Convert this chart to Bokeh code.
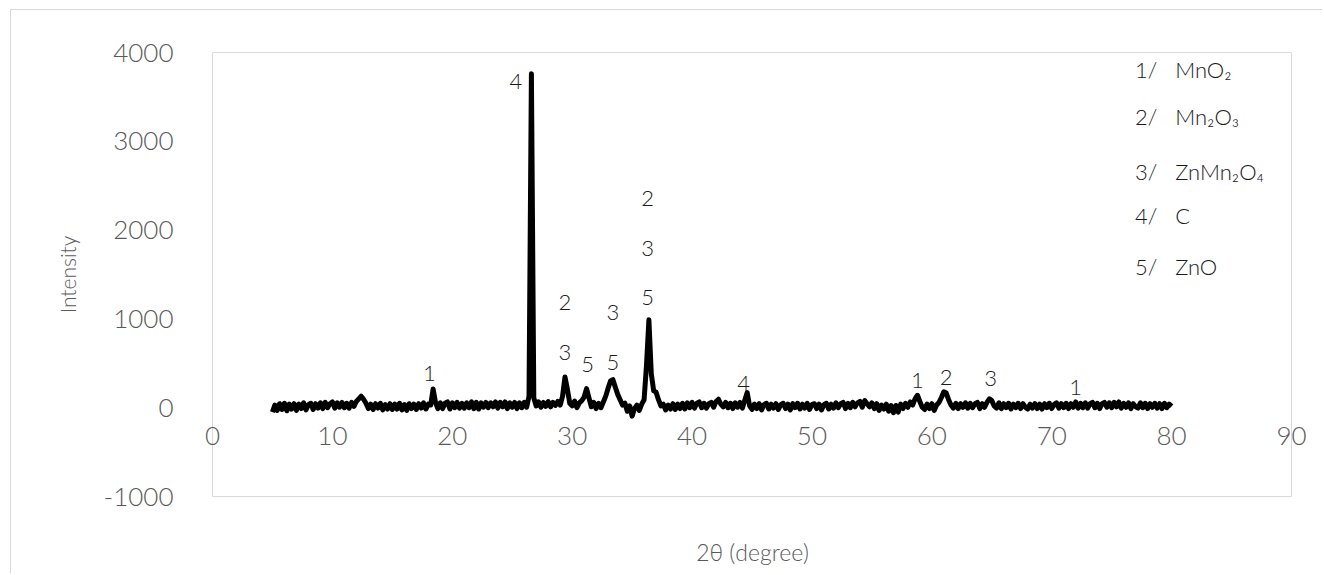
import numpy as np
from bokeh.plotting import figure
from bokeh.models import Range1d, LinearAxis, FixedTicker, ColumnDataSource
from bokeh.core.properties import value
from bokeh.embed import file_html
from bokeh.resources import INLINE

# ---------------- data ----------------
two_theta_start = 5.0
two_theta_step = 0.2
intensity = [
    -50, 30, -30, 45, -20, 50, -35, 40, -15, 45,      # 5.0 - 6.8
    -30, 40, -10, 55, -25, 35, 50, -20, 45, -5,       # 7.0 - 8.8
    55, -10, 60, 0, 45, 65, -5, 55, 5, 60,            # 9.0 - 10.8
    0, 50, -5, 60, 15, 70, 100, 130, 95, 50,          # 11.0 - 12.8
    -10, 40, -20, 45, -5, 50, -25, 35, -15, 45,       # 13.0 - 14.8
    -20, 40, -15, 50, -25, 35, -30, 45, -10, 40,      # 15.0 - 16.8
    -20, 45, -5, 55, -15, 40, 30, 210, 60, -10,       # 17.0 - 18.8
    55, -10, 50, 65, -15, 55, 0, 60, -5, 50,          # 19.0 - 20.8
    -5, 55, 0, 65, -10, 60, -15, 55, 5, 60,           # 21.0 - 22.8
    0, 55, 10, 65, -5, 60, 10, 65, -10, 55,           # 23.0 - 24.8
    5, 60, -10, 55, 0, 60, 5, 130, 3760, 110,         # 25.0 - 26.8
    20, 65, 5, 60, 15, 70, 10, 60, 25, 70,            # 27.0 - 28.8
    30, 130, 345, 210, 50, 20, 75, 0, 55, 80,         # 29.0 - 30.8
    120, 215, 110, 10, 60, -10, 50, 0, 65, 130,       # 31.0 - 32.8
    220, 300, 315, 230, 150, 90, 30, 50, -40, 20,     # 33.0 - 34.8
    -95, -10, 30, -30, 40, 90, 480, 990, 380, 190,    # 35.0 - 36.8
    175, 90, 20, 40, -25, 30, -15, 45, -20, 40,       # 37.0 - 38.8
    -10, 50, -15, 55, 0, 60, -5, 50, 65, 0,           # 39.0 - 40.8
    50, -5, 45, 60, 5, 70, 95, 40, 10, 60,            # 41.0 - 42.8
    0, 50, -10, 55, 5, 60, -5, 85, 170, 20,           # 43.0 - 44.8
    -20, 40, -10, 45, -25, 35, 50, -15, 40, -5,       # 45.0 - 46.8
    45, -20, 35, 50, -10, 40, -25, 45, 0, 50,         # 47.0 - 48.8
    -15, 40, -5, 50, -20, 35, 45, -10, 40, -25,       # 49.0 - 50.8
    35, 50, -15, 40, -5, 55, 0, 45, 60, -10,          # 51.0 - 52.8
    50, 0, 60, 10, 55, 70, 5, 80, 45, 10,             # 53.0 - 54.8
    55, -10, 45, -30, 30, -15, 40, -40, 25, -55,      # 55.0 - 56.8
    25, -50, 40, -10, 50, 5, 65, 30, 100, 140,        # 57.0 - 58.8
    70, 5, -20, 40, -10, 45, -30, 30, 60, 115,        # 59.0 - 60.8
    180, 165, 90, 30, -5, 50, -10, 45, 5, 55,         # 61.0 - 62.8
    -5, 50, 0, 45, 60, -10, 45, 5, 60, 100,           # 63.0 - 64.8
    80, 20, -5, 55, -10, 45, 0, 50, -15, 40,          # 65.0 - 66.8
    0, 50, -10, 45, 5, -15, 40, -5, 45, -10,          # 67.0 - 68.8
    40, -15, 45, 0, 50, -10, 35, 55, -5, 45,          # 69.0 - 70.8
    0, 50, -10, 45, 5, 65, -5, 50, 0, 55,             # 71.0 - 72.8
    -5, 45, 60, 0, 50, -10, 45, 60, 5, 55,            # 73.0 - 74.8
    0, 60, 10, 65, -5, 50, 5, 55, -10, 45,            # 75.0 - 76.8
    10, -5, 55, 0, 50, -10, 45, 5, 50, -5,            # 77.0 - 78.8
    45, -10, 50, 0, 40, 15,                           # 79.0 - 80.0
]
two_theta = [round(two_theta_start + i * two_theta_step, 1) for i in range(len(intensity))]

peak_label_x = [18.1, 25.3, 29.4, 29.4, 31.3, 33.4, 33.4, 36.3, 36.3, 36.3, 44.3, 58.8, 61.2, 64.9, 72.0]
peak_label_y = [390, 3678, 1180, 618, 483, 1067, 506, 2360, 1798, 1236, 277, 307, 345, 333, 232]
peak_label_text = ["1", "4", "2", "3", "5", "3", "5", "2", "3", "5", "4", "1", "2", "3", "1"]

legend_num = ["1/", "2/", "3/", "4/", "5/"]
legend_phase = ["MnO\u2082", "Mn\u2082O\u2083", "ZnMn\u2082O\u2084", "C", "ZnO"]
legend_y = [3810, 3280, 2660, 2170, 1595]

x_ticks = [0, 10, 20, 30, 40, 50, 60, 70, 80, 90]
y_ticks = [-1000, 0, 1000, 2000, 3000, 4000]

# ---------------- figure ----------------
FONT = "Lato Light"
GRID = "#d9d9d9"
TXT = "#595959"

p = figure(width=1312, height=564, output_backend="svg", toolbar_location=None,
           x_range=Range1d(0, 90), y_range=Range1d(-1000, 4000),
           min_border_left=201, min_border_right=32, min_border_top=42, min_border_bottom=78,
           x_axis_type=None, y_axis_type=None)
p.outline_line_color = GRID
p.background_fill_color = "white"
p.border_fill_color = "white"

# y axis
yax = LinearAxis(ticker=FixedTicker(ticks=y_ticks))
yax.axis_line_color = None
yax.major_tick_line_color = None
yax.minor_tick_line_color = None
yax.major_label_text_font = FONT
yax.major_label_text_font_size = "26px"
yax.major_label_text_color = TXT
yax.major_label_standoff = 33
yax.major_label_overrides = {-1000: "-1000"}
yax.axis_label = "Intensity"
yax.axis_label_text_font = FONT
yax.axis_label_text_font_size = "21px"
yax.axis_label_text_font_style = "normal"
yax.axis_label_text_color = TXT
yax.axis_label_standoff = 21
p.add_layout(yax, "left")

# x axis: its labels sit just under the zero line
xax = LinearAxis(ticker=FixedTicker(ticks=x_ticks))
xax.axis_line_color = None
xax.major_tick_line_color = None
xax.minor_tick_line_color = None
xax.major_label_text_font = FONT
xax.major_label_text_font_size = "26px"
xax.major_label_text_color = TXT
xax.major_label_standoff = -76
p.add_layout(xax, "below")

# x axis title
xt = LinearAxis(ticker=FixedTicker(ticks=[]))
xt.axis_line_color = None
xt.major_tick_line_color = None
xt.minor_tick_line_color = None
xt.major_label_text_font_size = "0px"
xt.axis_label = "2\u03b8 (degree)"
xt.axis_label_text_font = FONT
xt.axis_label_text_font_size = "23px"
xt.axis_label_text_font_style = "normal"
xt.axis_label_text_color = TXT
xt.axis_label_standoff = 41
p.add_layout(xt, "below")

p.xgrid.ticker = FixedTicker(ticks=x_ticks)
p.ygrid.ticker = FixedTicker(ticks=y_ticks)
p.xgrid.grid_line_color = GRID
p.ygrid.grid_line_color = GRID
p.xgrid.grid_line_width = 1.3
p.ygrid.grid_line_width = 1.3

src = ColumnDataSource(dict(x=two_theta, y=intensity))
p.line("x", "y", source=src, line_color="black", line_width=5, line_join="round")

lab = ColumnDataSource(dict(x=peak_label_x, y=peak_label_y, t=peak_label_text))
p.text("x", "y", text="t", source=lab, text_font=value(FONT), text_font_size="22px",
       text_color="#1a1a1a", text_align="center", text_baseline="middle")

leg = ColumnDataSource(dict(xn=[78.8] * 5, xp=[80.3] * 5, y=legend_y, n=legend_num, ph=legend_phase))
p.text("xn", "y", text="n", source=leg, text_font=value(FONT), text_font_size="22px",
       text_color="#1a1a1a", text_align="right", text_baseline="middle")
p.text("xp", "y", text="ph", source=leg, text_font=value(FONT), text_font_size="22px",
       text_color="#1a1a1a", text_align="left", text_baseline="middle")

p.styles = {"margin-left": "10px", "margin-top": "9px",
            "border-left": "1px solid #d9d9d9", "border-top": "1px solid #d9d9d9"}

open("out.html", "w").write(file_html(p, INLINE))
